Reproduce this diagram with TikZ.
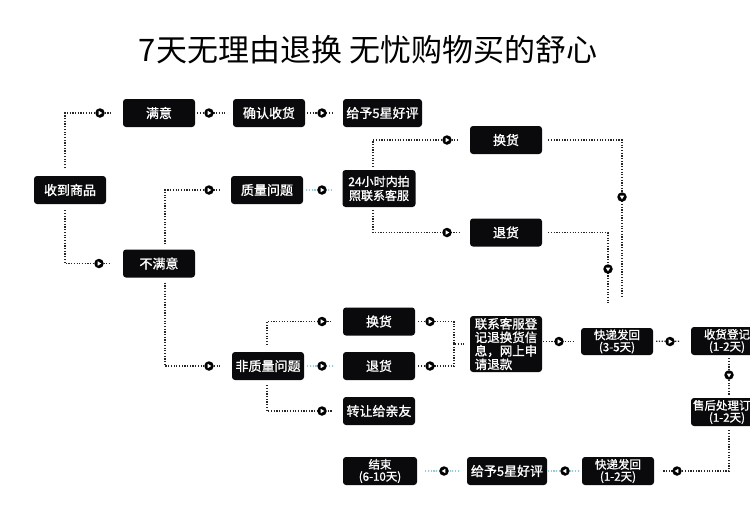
\documentclass[tikz,border=0pt]{standalone}
\usepackage{fontspec}
\setmainfont{Noto Sans CJK SC}
\newfontfamily\boxfont[FakeBold=1.2]{Noto Sans CJK SC}
\usetikzlibrary{calc}
\definecolor{lblue}{HTML}{8ACFEA}
\definecolor{boxblack}{HTML}{0A0A0C}
\tikzset{
  box/.style={fill=boxblack, rounded corners=3pt, text=white, minimum width=72pt, minimum height=28pt, inner sep=0pt, font=\boxfont\fontsize{13}{15}\selectfont},
  box2/.style={box, font=\boxfont\fontsize{11.5}{12}\selectfont, align=center},
  dl/.style={draw=black!85, line width=1.2pt, dash pattern=on 1.2pt off 1.5pt},
  bl/.style={dl, draw=lblue},
  mkbase/.style={circle, fill=black, inner sep=0pt, minimum size=9.5pt},
  mkR/.style={mkbase, path picture={\fill[white] ($(path picture bounding box.center)+(-1.3pt,2.2pt)$) -- ++(3.6pt,-2.2pt) -- ++(-3.6pt,-2.2pt) -- cycle;}},
  mkL/.style={mkbase, path picture={\fill[white] ($(path picture bounding box.center)+(1.3pt,2.2pt)$) -- ++(-3.6pt,-2.2pt) -- ++(3.6pt,-2.2pt) -- cycle;}},
  mkD/.style={mkbase, path picture={\fill[white] ($(path picture bounding box.center)+(-2.2pt,1.3pt)$) -- ++(2.2pt,-3.6pt) -- ++(2.2pt,3.6pt) -- cycle;}},
}
\begin{document}
\begin{tikzpicture}[x=1pt,y=-1pt]
\useasboundingbox (0,0) rectangle (750,523);
\clip (0,0) rectangle (750,523);
\fill[white] (0,0) rectangle (750,523);

\node[font=\fontsize{31}{31}\selectfont] (title) at (368,50) {7天无理由退换 无忧购物买的舒心};

% boxes
\node[box] (sh) at (70,190) {收到商品};
\node[box] (my) at (159,113) {满意};
\node[box] (qr) at (269,113) {确认收货};
\node[box, minimum width=79pt] (hp1) at (382.5,113) {给予5星好评};
\node[box] (bmy) at (159,263.5) {不满意};
\node[box] (zl) at (267,190) {质量问题};
\node[box2, minimum width=73pt, minimum height=37pt, font=\boxfont\fontsize{12}{14}\selectfont] (kf) at (379,188.5) {24小时内拍\\照联系客服};
\node[box] (hh1) at (506,140) {换货};
\node[box] (th1) at (506,232.5) {退货};
\node[box] (fzl) at (268,366) {非质量问题};
\node[box] (hh2) at (379,321.5) {换货};
\node[box] (th2) at (379,366) {退货};
\node[box] (zr) at (379,411) {转让给亲友};
\node[box, minimum height=56pt, align=left, font=\boxfont\fontsize{12.5}{13.5}\selectfont] (lx) at (506,344) {联系客服登\\记退换货信\\息，网上申\\请退款};
\node[box2, minimum height=27pt] (kd1) at (617,341.5) {快递发回\\(3-5天)};
\node[box2] (sd) at (727,341) {收货登记\\(1-2天)};
\node[box2] (sh2) at (727,412) {\makebox[68pt][l]{售后处理订}\\(1-2天)};
\node[box2] (kd2) at (618,471) {快递发回\\(1-2天)};
\node[box, minimum width=80pt] (hp2) at (507,471) {给予5星好评};
\node[box2, minimum width=74pt] (js) at (380,471) {结束\\(6-10天)};

\coordinate (mg) at (454,344);

% connectors
\draw[dl, shorten <=8pt, shorten >=12pt] ([xshift=-5pt]sh.north) |- (my.west);
\draw[dl, shorten <=6pt, shorten >=12pt] ([xshift=-5pt]sh.south) |- (bmy.west);
\draw[dl, shorten <=2pt, shorten >=8pt] (my) -- (qr);
\draw[dl, shorten <=2pt, shorten >=11pt] (qr) -- (hp1);
\draw[dl, shorten <=5pt, shorten >=12pt] ([xshift=6pt]bmy.north) |- (zl.west);
\draw[dl, shorten <=5pt, shorten >=12pt] ([xshift=6pt]bmy.south) |- (fzl.west);
\draw[bl, shorten <=3pt, shorten >=10pt] (zl.east) -- (zl.east -| kf.west);
\draw[dl, shorten <=3pt, shorten >=11pt] ([xshift=-6pt]kf.north) |- (hh1.west);
\draw[dl, shorten <=3pt, shorten >=11pt] ([xshift=-6pt]kf.south) |- (th1.west);
\draw[dl, shorten <=6pt, shorten >=30pt] (hh1.east) -| ([xshift=5pt]kd1.north);
\draw[dl, shorten <=6pt, shorten >=25pt] (th1.east) -| ([xshift=-9pt]kd1.north);
\draw[dl, shorten <=7pt, shorten >=11pt] ([xshift=-1pt]fzl.north) |- (hh2.west);
\draw[bl, shorten <=3pt, shorten >=10pt] (fzl) -- (th2);
\draw[dl, shorten <=5pt, shorten >=11pt] ([xshift=-1pt]fzl.south) |- (zr.west);
\draw[dl, shorten <=3pt, shorten >=5pt] (hh2.east) -| (mg) -- (lx.west);
\draw[dl, shorten <=3pt] (th2.east) -| (mg);
\draw[dl, shorten <=1pt, shorten >=6pt] (lx.east |- kd1) -- (kd1.west);
\draw[dl, shorten <=3pt, shorten >=11pt] (kd1) -- (sd);
\draw[dl, shorten <=3pt, shorten >=3pt] ([xshift=2pt]sd.south) -- ([xshift=2pt]sh2.north);
\draw[dl, shorten <=4pt, shorten >=9pt] ([xshift=2pt]sh2.south) |- (kd2.east);
\draw[bl, shorten <=3pt, shorten >=1pt] (kd2) -- (hp2);
\draw[bl, shorten <=8pt, shorten >=8pt] (hp2) -- (js);

% markers
\node[mkR] (m1) at (100,113) {};
\node[mkR] (m2) at (99,263.5) {};
\node[mkR] (m3) at (209,113) {};
\node[mkR] (m4) at (322,113) {};
\node[mkR] (m5) at (209,190) {};
\node[mkR] (m6) at (209,366) {};
\node[mkR] (m7) at (322,190) {};
\node[mkR] (m8) at (447,140) {};
\node[mkR] (m9) at (447,232.5) {};
\node[mkD] (m10) at (622,197) {};
\node[mkD] (m11) at (608,269) {};
\node[mkR] (m12) at (322,321.5) {};
\node[mkR] (m13) at (322,366) {};
\node[mkR] (m14) at (322,411) {};
\node[mkR] (m15) at (430,321.5) {};
\node[mkR] (m16) at (430,366) {};
\node[mkR] (m17) at (559,341.5) {};
\node[mkR] (m18) at (670,341.5) {};
\node[mkD] (m19) at (729,375) {};
\node[mkL] (m20) at (677,471) {};
\node[mkL] (m21) at (565,471) {};
\node[mkL] (m22) at (444,471) {};
\end{tikzpicture}
\end{document}
